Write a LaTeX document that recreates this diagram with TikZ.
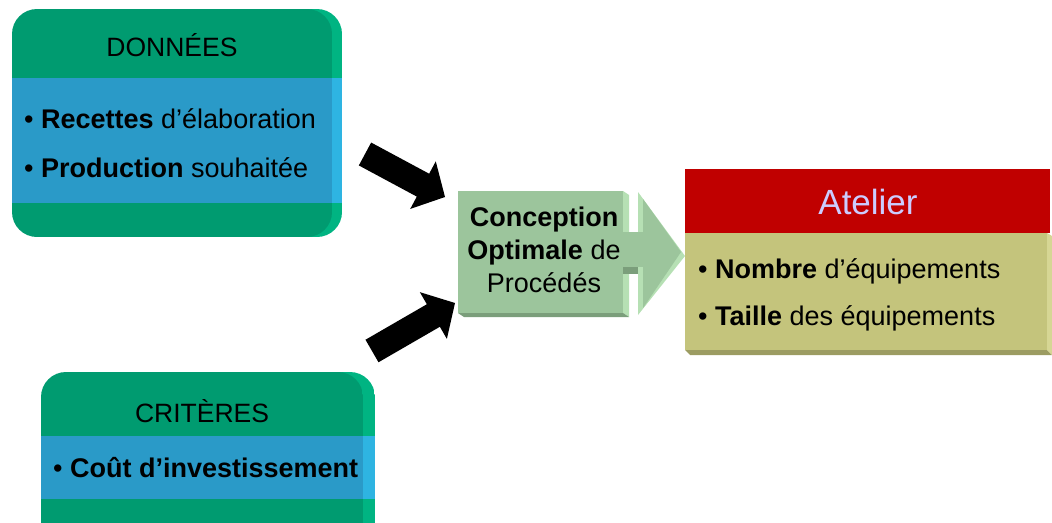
\documentclass[tikz,border=0pt]{standalone}
\usepackage{fontspec}
\setmainfont{Liberation Sans}
\usetikzlibrary{calc}

\definecolor{hdgreen}{HTML}{009B70}
\definecolor{hdgreenside}{HTML}{00B482}
\definecolor{bandblue}{HTML}{2A9AC8}
\definecolor{bandblueside}{HTML}{2EB4E2}
\definecolor{procface}{HTML}{9CC59C}
\definecolor{proclight}{HTML}{B6E0B4}
\definecolor{procdark}{HTML}{7B9E7B}
\definecolor{atred}{HTML}{C00000}
\definecolor{atkhaki}{HTML}{C4C47C}
\definecolor{atkhakilight}{HTML}{D6D694}
\definecolor{atkhakidark}{HTML}{9C9C62}
\definecolor{attext}{HTML}{CCCCFF}

% thick black block arrow from #1 (tail) to #2 (tip)
\newcommand\blockarrow[2]{%
  \coordinate (#1-hb) at ($(#2)!25pt!(#1)$);
  \fill[black]
    ($(#1)!13pt!90:(#2)$) --
    ($(#1-hb)!13pt!-90:(#1)$) --
    ($(#1-hb)!27pt!-90:(#1)$) --
    (#2) --
    ($(#1-hb)!27pt!90:(#1)$) --
    ($(#1-hb)!13pt!90:(#1)$) --
    ($(#1)!13pt!-90:(#2)$) -- cycle;
}

\begin{document}
\begin{tikzpicture}[x=1pt,y=-1pt,
  txt/.style={font=\fontsize{27}{31}\selectfont, inner sep=0pt},
  ttltxt/.style={font=\fontsize{26.5}{31}\selectfont, inner sep=0pt},
  bigtxt/.style={font=\fontsize{35}{40}\selectfont, inner sep=0pt}]
\useasboundingbox (0,0) rectangle (1052,522);

% ---------- DONNEES card ----------
\begin{scope}
  \clip[rounded corners=25pt] (22,9) rectangle (342,237);
  \fill[hdgreenside] (22,9) rectangle (342,237);
  \fill[bandblueside] (22,78) rectangle (342,203);
\end{scope}
\begin{scope}
  \clip[rounded corners=25pt] (12,9) rectangle (332,237);
  \fill[hdgreen] (12,9) rectangle (332,237);
  \fill[bandblue] (12,78) rectangle (332,203);
\end{scope}
\node[ttltxt, anchor=base] (donTitle) at (172,56) {DONNÉES};
\node[txt, anchor=base west] (donA) at (24,128) {• \textbf{Recettes} d’élaboration};
\node[txt, anchor=base west] (donB) at (24,177) {• \textbf{Production} souhaitée};

% ---------- CRITERES card ----------
\begin{scope}
  \clip[rounded corners=25pt] (51,372) rectangle (375,570);
  \fill[hdgreenside] (51,372) rectangle (375,570);
  \fill[bandblueside] (51,436) rectangle (375,499);
\end{scope}
\begin{scope}
  \clip[rounded corners=25pt] (41,372) rectangle (363,570);
  \fill[hdgreen] (41,372) rectangle (363,570);
  \fill[bandblue] (41,436) rectangle (363,499);
\end{scope}
\node[ttltxt, anchor=base] (critTitle) at (202,422) {CRITÈRES};
\node[txt, anchor=base west] (critA) at (53,477) {• \textbf{Coût d’investissement}};

% ---------- process box (3D) ----------
\fill[proclight] (623,191) -- (629,195) -- (629,317) -- (623,313) -- cycle;
\fill[procdark] (458,313) -- (623,313) -- (629,317) -- (464,317) -- cycle;
\node[fill=procface, inner sep=0pt, minimum width=165pt, minimum height=122pt,
      anchor=north west] (proc) at (458,191) {};
\node[txt, anchor=base] (procA) at (544,226) {\textbf{Conception}};
\node[txt, anchor=base] (procB) at (544,259) {\textbf{Optimale} de};
\node[txt, anchor=base] (procC) at (544,292) {Procédés};

% ---------- output arrow (3D) ----------
\coordinate (outTail) at (623,249);
\coordinate (outTip) at (685,256);
\fill[procdark] (623,267) rectangle (638,274);
\fill[proclight] (638,192) -- (outTip) -- (638,315) -- cycle;
\fill[procface] (623,232) rectangle (643,267);
\fill[procface] (643,199) -- (681,252) -- (643,308) -- cycle;

% ---------- Atelier box (3D) ----------
\fill[atkhakidark] (685,350) -- (1047,350) -- (1052,355) -- (690,355) -- cycle;
\fill[atkhakilight] (1047,233) -- (1052,236) -- (1052,355) -- (1047,350) -- cycle;
\node[fill=atred, inner sep=0pt, minimum width=365pt, minimum height=64pt,
      anchor=north west] (atHead) at (685,169) {};
\node[fill=atkhaki, inner sep=0pt, minimum width=362pt, minimum height=117pt,
      anchor=north west] (atBody) at (685,233) {};
\node[bigtxt, text=attext, anchor=base] (atTitle) at (868,214) {Atelier};
\node[txt, anchor=base west] (atA) at (698,278) {• \textbf{Nombre} d’équipements};
\node[txt, anchor=base west] (atB) at (698,325) {• \textbf{Taille} des équipements};

% ---------- input arrows ----------
\coordinate (donTail) at (365,154);
\coordinate (donTip) at (445,197);
\coordinate (critTail) at (372,351);
\coordinate (critTip) at (455,303);
\blockarrow{donTail}{donTip}
\blockarrow{critTail}{critTip}

\end{tikzpicture}
\end{document}
